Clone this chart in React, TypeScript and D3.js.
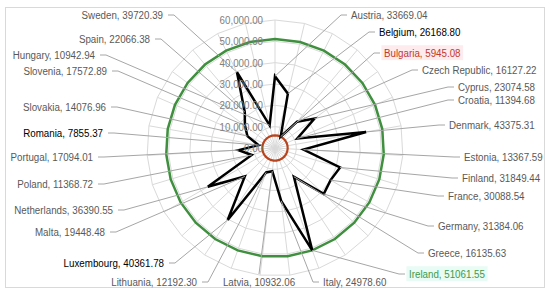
import * as d3 from "d3";
import { useEffect, useRef } from "react";

const countries = [
  "Austria", "Belgium", "Bulgaria", "Czech Republic", "Cyprus", "Croatia",
  "Denmark", "Estonia", "Finland", "France", "Germany", "Greece", "Ireland",
  "Italy", "Latvia", "Lithuania", "Luxembourg", "Malta", "Netherlands",
  "Poland", "Portugal", "Romania", "Slovakia", "Slovenia", "Spain", "Sweden",
  "Hungary",
];
const values = [
  33669.04, 26168.8, 5945.08, 16127.22, 23074.58, 11394.68,
  43375.31, 13367.59, 31849.44, 30088.54, 31384.06, 16135.63, 51061.55,
  24978.6, 10932.06, 12192.3, 40361.78, 19448.48, 36390.55,
  11368.72, 17094.01, 7855.37, 14076.96, 17572.89, 22066.38, 39720.39,
  10942.94,
];
const maxCountry = "Ireland";
const minCountry = "Bulgaria";
const darkLabels = ["Belgium", "Romania", "Luxembourg"];
const ticks = [0, 10000, 20000, 30000, 40000, 50000, 60000];

// where each data label sits: side r = text starts at x, l = text ends at x, b = centred
const labelLayout = [
  { x: 351, y: 15, side: "r" }, { x: 379, y: 32, side: "r" },
  { x: 384, y: 53, side: "r" }, { x: 422, y: 70, side: "r" },
  { x: 458, y: 87, side: "r" }, { x: 458, y: 100, side: "r" },
  { x: 449, y: 125, side: "r" }, { x: 464, y: 157, side: "r" },
  { x: 462, y: 178, side: "r" }, { x: 448, y: 196, side: "r" },
  { x: 438, y: 226, side: "r" }, { x: 428, y: 253, side: "r" },
  { x: 409, y: 274, side: "r" }, { x: 323, y: 282, side: "r" },
  { x: 259, y: 282, side: "b" }, { x: 197, y: 282, side: "l" },
  { x: 164, y: 263, side: "l" }, { x: 105, y: 232, side: "l" },
  { x: 113, y: 210, side: "l" }, { x: 93, y: 184, side: "l" },
  { x: 93, y: 157, side: "l" }, { x: 103, y: 133, side: "l" },
  { x: 106, y: 107, side: "l" }, { x: 107, y: 71, side: "l" },
  { x: 150, y: 39, side: "l" }, { x: 163, y: 15, side: "l" },
  { x: 95, y: 55, side: "l" },
];

const W = 550;
const H = 295;
const cx = 275;
const cy = 148;
const R = 128;
const FONT = "'Liberation Sans', Arial, sans-serif";
const SQUEEZE = 0.85; // Calibri-like narrow text

const RadarChart = () => {
  const ref = useRef<SVGSVGElement>(null);

  useEffect(() => {
    const svg = d3.select(ref.current);
    svg.selectAll("*").remove();
    svg.attr("width", W).attr("height", H);

    svg
      .append("rect")
      .attr("x", 5.5)
      .attr("y", 7.5)
      .attr("width", 539)
      .attr("height", 280)
      .attr("fill", "#fff")
      .attr("stroke", "#d9d9d9");

    const n = countries.length;
    const angle = d3
      .scaleLinear()
      .domain([0, n])
      .range([0, 2 * Math.PI]);
    const r = d3.scaleLinear().domain([0, 60000]).range([0, R]);
    const pt = (i: number, v: number): [number, number] => [
      cx + r(v) * Math.sin(angle(i)),
      cy - r(v) * Math.cos(angle(i)),
    ];

    const g = svg.append("g").attr("transform", `translate(${cx},${cy})`);
    const ring = (v: number) =>
      d3
        .lineRadial<number>()
        .angle((_, i) => angle(i))
        .radius(() => r(v))
        .curve(d3.curveLinearClosed)(d3.range(n));

    // grid rings
    g.selectAll("path.ring")
      .data(ticks.slice(1))
      .join("path")
      .attr("class", "ring")
      .attr("d", (d) => ring(d))
      .attr("fill", "none")
      .attr("stroke", "#d9d9d9")
      .attr("stroke-width", 1);

    // spokes
    g.selectAll("line.spoke")
      .data(d3.range(n))
      .join("line")
      .attr("class", "spoke")
      .attr("x1", 0)
      .attr("y1", 0)
      .attr("x2", (i) => R * Math.sin(angle(i)))
      .attr("y2", (i) => -R * Math.cos(angle(i)))
      .attr("stroke", "#d9d9d9");

    // leader lines
    const leader = (i: number) => {
      const L = labelLayout[i];
      const [px, py] = pt(i, values[i]);
      if (L.side === "b") return `M${L.x},${L.y - 8}L${px},${py}`;
      const sx = L.side === "r" ? L.x - 4 : L.x + 5;
      const ex = L.side === "r" ? sx - 6 : sx + 6;
      return `M${sx},${L.y}L${ex},${L.y}L${px},${py}`;
    };
    svg
      .append("g")
      .selectAll("path")
      .data(d3.range(n))
      .join("path")
      .attr("d", (i) => leader(i))
      .attr("fill", "none")
      .attr("stroke", "#a6a6a6")
      .attr("stroke-width", 1);

    // tick labels
    const fmt = d3.format(",.2f");
    svg
      .append("g")
      .selectAll("text")
      .data(ticks)
      .join("text")
      .attr("transform", (d) => `translate(${cx - 12},${cy - r(d)}) scale(${SQUEEZE},1)`)
      .attr("dy", "0.35em")
      .attr("text-anchor", "end")
      .attr("font-family", FONT)
      .attr("font-size", 11.5)
      .attr("fill", "#808080")
      .text((d) => fmt(d));

    const line = d3
      .lineRadial<number>()
      .angle((_, i) => angle(i))
      .radius((d) => r(d))
      .curve(d3.curveLinearClosed);

    const maxV = values[countries.indexOf(maxCountry)];
    const minV = values[countries.indexOf(minCountry)];

    g.append("path")
      .attr("d", line(countries.map(() => maxV)))
      .attr("fill", "none")
      .attr("stroke", "#3f8f3f")
      .attr("stroke-width", 2.5);

    g.append("path")
      .attr("d", line(countries.map(() => minV)))
      .attr("fill", "none")
      .attr("stroke", "#b8441e")
      .attr("stroke-width", 2.2);

    g.append("path")
      .attr("d", line(values))
      .attr("fill", "none")
      .attr("stroke", "#000")
      .attr("stroke-width", 2.5)
      .attr("stroke-linejoin", "miter");

    // data labels
    const lab = svg
      .append("g")
      .selectAll("g")
      .data(d3.range(n))
      .join("g")
      .attr("transform", (i) => `translate(${labelLayout[i].x},${labelLayout[i].y}) scale(${SQUEEZE},1)`);

    lab
      .append("text")
      .attr("dy", "0.35em")
      .attr("text-anchor", (i) =>
        labelLayout[i].side === "r" ? "start" : labelLayout[i].side === "l" ? "end" : "middle"
      )
      .attr("font-family", FONT)
      .attr("font-size", 11.5)
      .attr("fill", (i) =>
        countries[i] === maxCountry
          ? "#3f9a4a"
          : countries[i] === minCountry
          ? "#c0392b"
          : darkLabels.includes(countries[i])
          ? "#000"
          : "#595959"
      )
      .text((i) => `${countries[i]}, ${values[i].toFixed(2)}`)
      .each(function (i) {
        const c = countries[i];
        if (c !== maxCountry && c !== minCountry) return;
        const b = (this as SVGTextElement).getBBox();
        d3.select((this as SVGTextElement).parentNode as SVGGElement)
          .insert("rect", "text")
          .attr("x", b.x - 3)
          .attr("y", b.y - 1)
          .attr("width", b.width + 6)
          .attr("height", b.height + 2)
          .attr("fill", c === maxCountry ? "#e8fbf4" : "#fdebee");
      });
  }, []);

  return (
    <svg
      ref={ref}
      style={{ position: "absolute", left: 0, top: 0, display: "block" }}
    ></svg>
  );
};

export default function App() {
  return <RadarChart />;
}
